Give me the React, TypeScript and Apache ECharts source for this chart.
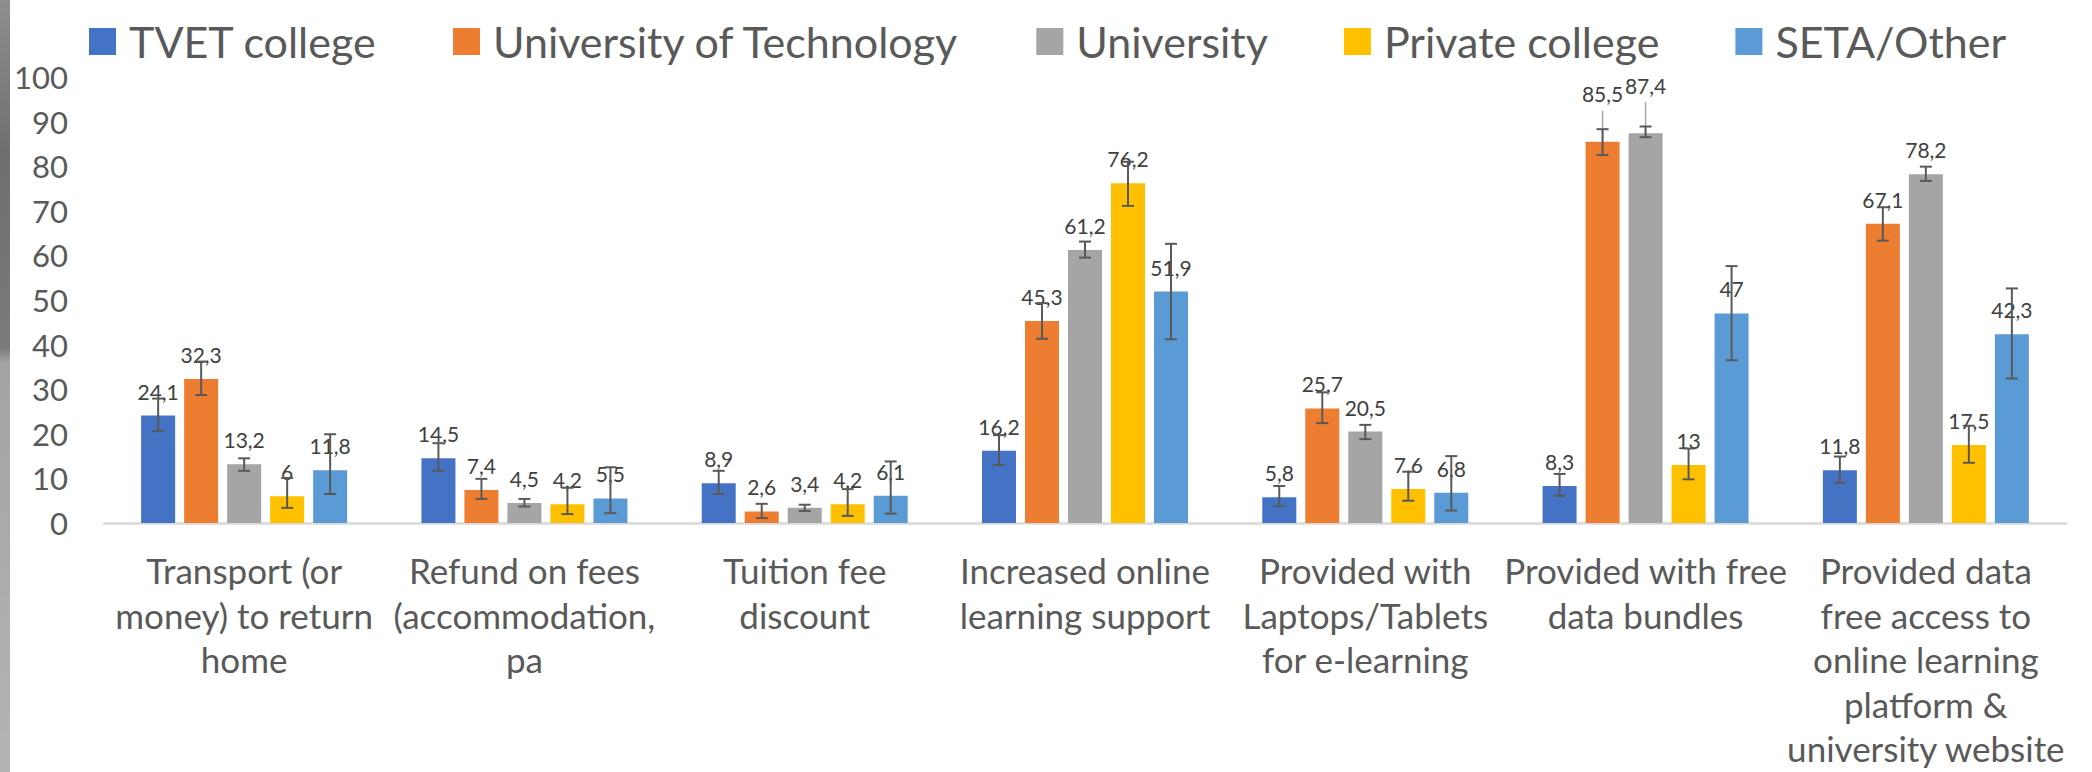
import React, { useEffect, useRef } from "react";
import * as echarts from "echarts";

const categories = [
  "Transport (or\nmoney) to return\nhome",
  "Refund on fees\n(accommodation,\npa",
  "Tuition fee\ndiscount",
  "Increased online\nlearning support",
  "Provided with\nLaptops/Tablets\nfor e-learning",
  "Provided with free\ndata bundles",
  "Provided data\nfree access to\nonline learning\nplatform &\nuniversity website",
];

const seriesNames = ["TVET college", "University of Technology", "University", "Private college", "SETA/Other"];
const colors = ["#4472C4", "#ED7D31", "#A5A5A5", "#FFC000", "#5B9BD5"];

const tvetValues = [24.1, 14.5, 8.9, 16.2, 5.8, 8.3, 11.8];
const tvetLow = [20.6, 11.7, 6.5, 13.0, 3.8, 6.1, 9.0];
const tvetHigh = [27.9, 17.9, 11.7, 19.7, 8.3, 11.0, 14.9];

const uotValues = [32.3, 7.4, 2.6, 45.3, 25.7, 85.5, 67.1];
const uotLow = [28.7, 5.4, 1.1, 41.3, 22.4, 82.5, 63.3];
const uotHigh = [36.2, 9.9, 4.3, 49.3, 29.3, 88.3, 70.8];

const uniValues = [13.2, 4.5, 3.4, 61.2, 20.5, 87.4, 78.2];
const uniLow = [11.7, 3.7, 2.7, 59.5, 18.8, 86.5, 76.7];
const uniHigh = [14.5, 5.4, 4.1, 63.1, 22.0, 88.9, 79.9];

const privValues = [6, 4.2, 4.2, 76.2, 7.6, 13, 17.5];
const privLow = [3.4, 2.0, 1.6, 71.1, 5.0, 9.8, 13.5];
const privHigh = [10.1, 7.9, 7.6, 81.0, 11.5, 16.7, 21.8];

const setaValues = [11.8, 5.5, 6.1, 51.9, 6.8, 47, 42.3];
const setaLow = [6.5, 2.2, 2.1, 41.2, 2.8, 36.5, 32.4];
const setaHigh = [19.9, 12.5, 13.8, 62.6, 15.0, 57.6, 52.6];

const yMin = 0;
const yMax = 100;
const yInterval = 10;

// [seriesIndex, categoryIndex] of labels moved up with a leader line
const liftedLabels = [
  [1, 5],
  [2, 5],
];

const allValues = [tvetValues, uotValues, uniValues, privValues, setaValues];
const allLow = [tvetLow, uotLow, uniLow, privLow, setaLow];
const allHigh = [tvetHigh, uotHigh, uniHigh, privHigh, setaHigh];

const FONT = "Lato, 'Liberation Sans', Arial, sans-serif";
const BAR_W = 34;
const BAR_GAP = 9;

const fmt = (v: number) => String(v).replace(".", ",");

export default function App() {
  const ref = useRef<HTMLDivElement>(null);

  useEffect(() => {
    const chart = echarts.init(ref.current!, null, { renderer: "svg" });

    const isLifted = (s: number, c: number) => liftedLabels.some(([a, b]) => a === s && b === c);

    const barSeries = seriesNames.map((name, si) => ({
      name,
      type: "bar",
      barWidth: BAR_W,
      barGap: `${(BAR_GAP / BAR_W) * 100}%`,
      itemStyle: { color: colors[si] },
      z: 2,
      label: {
        show: true,
        position: "top",
        distance: 14,
        fontSize: 21,
        fontFamily: FONT,
        color: "#404040",
        formatter: (p: any) => fmt(p.value),
      },
      data: allValues[si].map((v, ci) =>
        isLifted(si, ci) ? { value: v, label: { offset: [0, -23.5] } } : v
      ),
    }));

    const errorSeries = seriesNames.map((name, si) => ({
      name,
      type: "custom",
      z: 3,
      silent: true,
      encode: { x: 0, y: [1, 2] },
      data: allValues[si].map((v, ci) => [ci, allLow[si][ci], allHigh[si][ci], v, isLifted(si, ci) ? 1 : 0]),
      renderItem: (params: any, api: any) => {
        const cat = api.value(0);
        const lo = api.coord([cat, api.value(1)]);
        const hi = api.coord([cat, api.value(2)]);
        const top = api.coord([cat, api.value(3)]);
        const x = lo[0] + (si - 2) * (BAR_W + BAR_GAP);
        const stroke = { stroke: "#595959", lineWidth: 2 };
        const children: any[] = [];
        if (api.value(4) === 1) {
          children.push({
            type: "line",
            shape: { x1: x, y1: top[1] - 31, x2: x, y2: top[1] },
            style: { stroke: "#a6a6a6", lineWidth: 1.5 },
          });
        }
        children.push(
          { type: "line", shape: { x1: x, y1: hi[1], x2: x, y2: lo[1] }, style: stroke },
          { type: "line", shape: { x1: x - 6, y1: hi[1], x2: x + 6, y2: hi[1] }, style: stroke },
          { type: "line", shape: { x1: x - 6, y1: lo[1], x2: x + 6, y2: lo[1] }, style: stroke }
        );
        return { type: "group", children };
      },
    }));

    const option: any = {
      animation: false,
      backgroundColor: "#ffffff",
      textStyle: { fontFamily: FONT },
      legend: {
        data: seriesNames,
        top: 15,
        left: 84,
        itemWidth: 27,
        itemHeight: 27,
        itemGap: 76,
        icon: "rect",
        textStyle: { fontSize: 43, color: "#595959", fontFamily: FONT, padding: [0, 0, 0, 8] },
      },
      grid: {
        left: 104,
        right: 26,
        top: 77,
        bottom: 249,
        containLabel: false,
        outerBoundsMode: "none",
      },
      xAxis: {
        type: "category",
        data: categories,
        axisTick: { show: false },
        axisLine: { lineStyle: { color: "#d9d9d9", width: 2.5 } },
        axisLabel: {
          interval: 0,
          fontSize: 35,
          lineHeight: 44.5,
          color: "#595959",
          margin: 25,
          fontFamily: FONT,
          align: "center",
          verticalAlign: "top",
        },
      },
      yAxis: {
        type: "value",
        min: yMin,
        max: yMax,
        interval: yInterval,
        splitLine: { show: false },
        axisLine: { show: false },
        axisTick: { show: false },
        axisLabel: { fontSize: 31, color: "#595959", margin: 36, fontFamily: FONT },
      },
      graphic: [
        {
          type: "rect",
          left: 0,
          top: 0,
          shape: { x: 0, y: 0, width: 10, height: 772 },
          style: {
            fill: new echarts.graphic.LinearGradient(0, 0, 0, 1, [
              { offset: 0, color: "#8e8e8e" },
              { offset: 0.2, color: "#6f6f6f" },
              { offset: 0.45, color: "#7a7a7a" },
              { offset: 0.47, color: "#a4a4a4" },
              { offset: 1, color: "#b3b3b3" },
            ]),
          },
          silent: true,
        },
      ],
      series: [...barSeries, ...errorSeries],
    };

    chart.setOption(option);
    return () => chart.dispose();
  }, []);

  return (
    <div
      ref={ref}
      style={{ position: "fixed", left: 0, top: 0, width: 2092, height: 772, background: "#fff" }}
    />
  );
}
